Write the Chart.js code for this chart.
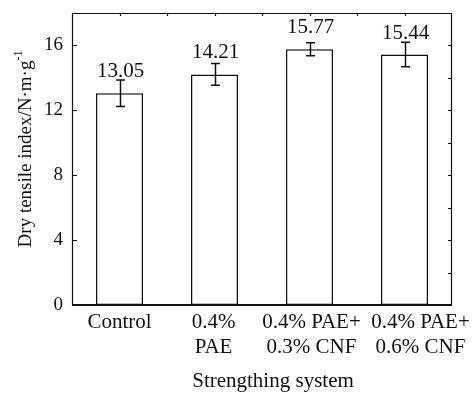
<!DOCTYPE html>
<html><head><meta charset="utf-8">
<script src="https://cdn.jsdelivr.net/npm/chart.js@4/dist/chart.umd.min.js"></script>
<style>html,body{margin:0;padding:0;background:#fff;} canvas{display:block;}</style>
</head><body>
<canvas id="c" width="474" height="393"></canvas>
<script>
const categories = [["Control"], ["0.4%", "PAE"], ["0.4% PAE+", "0.3% CNF"], ["0.4% PAE+", "0.6% CNF"]];
const values = [13.05, 14.21, 15.77, 15.44];
const errors = [0.82, 0.67, 0.40, 0.75];
const valueLabels = ["13.05", "14.21", "15.77", "15.44"];
const yTickValues = [0, 4, 8, 12, 16];
const yMinorTickValues = [2, 4, 6, 8, 10, 12, 14, 16];
const yMin = 0, yMax = 18;
const xTitle = "Strengthing system";
const yTitleMain = "Dry tensile index/N\u00B7m\u00B7g";
const yTitleSup = "-1";

const FONT = "'Liberation Serif', 'Times New Roman', serif";
const INK = "#111";

const decor = {
  id: 'decor',
  afterDatasetsDraw(chart) {
    const {ctx, chartArea: {left, right, top, bottom}, scales: {x, y}} = chart;
    ctx.save();
    ctx.strokeStyle = INK;
    ctx.fillStyle = INK;
    ctx.lineWidth = 1.5;
    values.forEach((v, i) => {
      const px = Math.round(x.getPixelForValue(i)) + 0.5;
      const t = y.getPixelForValue(v + errors[i]);
      const b = y.getPixelForValue(v - errors[i]);
      ctx.beginPath();
      ctx.moveTo(px, t); ctx.lineTo(px, b);
      ctx.moveTo(px - 4.5, t); ctx.lineTo(px + 4.5, t);
      ctx.moveTo(px - 4.5, b); ctx.lineTo(px + 4.5, b);
      ctx.stroke();
      ctx.font = "21px " + FONT;
      ctx.textAlign = 'center';
      ctx.textBaseline = 'alphabetic';
      ctx.fillText(valueLabels[i], px, y.getPixelForValue(v) - 16);
    });
    // category labels (last one sits a little to the right in the original)
    ctx.font = "21px " + FONT;
    ctx.textAlign = 'center';
    ctx.textBaseline = 'alphabetic';
    categories.forEach((lines, i) => {
      let cx = x.getPixelForValue(i);
      if (i === categories.length - 1) cx += 16;
      else if (i === 2) cx += 2;
      else if (i === 1) cx -= 1;
      lines.forEach((s, k) => ctx.fillText(s, cx, bottom + 23 + k * 25));
    });
    ctx.lineWidth = 1.2;
    ctx.beginPath();
    ctx.moveTo(left + 0.5, bottom); ctx.lineTo(left + 0.5, top + 0.5);
    ctx.lineTo(right - 0.5, top + 0.5); ctx.lineTo(right - 0.5, bottom);
    ctx.stroke();
    ctx.lineWidth = 2.2;
    ctx.beginPath();
    ctx.moveTo(left, bottom); ctx.lineTo(right, bottom);
    ctx.stroke();
    ctx.lineWidth = 1.2;
    ctx.beginPath();
    yTickValues.forEach(v => {
      const py = Math.round(y.getPixelForValue(v)) + 0.5;
      if (v > yMin) { ctx.moveTo(left, py); ctx.lineTo(left + 5, py); }
    });
    yMinorTickValues.forEach(v => {
      const py = Math.round(y.getPixelForValue(v)) + 0.5;
      ctx.moveTo(right, py); ctx.lineTo(right - 4, py);
    });
    const half = (x.getPixelForValue(1) - x.getPixelForValue(0)) / 2;
    for (let i = 0; i < categories.length; i++) {
      const c = x.getPixelForValue(i);
      [c, c + half].forEach(px => {
        if (px < right - 2) {
          const rx = Math.round(px) + 0.5;
          ctx.moveTo(rx, top); ctx.lineTo(rx, top + 3);
        }
      });
    }
    ctx.stroke();
    ctx.restore();
  },
  afterDraw(chart) {
    const {ctx} = chart;
    ctx.save();
    ctx.fillStyle = INK;
    ctx.font = "21px " + FONT;
    ctx.textAlign = 'center';
    ctx.textBaseline = 'middle';
    ctx.fillText(xTitle, 273, 381);
    ctx.translate(26, 149);
    ctx.rotate(-Math.PI / 2);
    ctx.font = "19px " + FONT;
    const wMain = ctx.measureText(yTitleMain).width;
    ctx.font = "12px " + FONT;
    const wSup = ctx.measureText(yTitleSup).width;
    const total = wMain + wSup;
    ctx.textAlign = 'left';
    ctx.textBaseline = 'middle';
    ctx.font = "19px " + FONT;
    ctx.fillText(yTitleMain, -total / 2, 0);
    ctx.font = "12px " + FONT;
    ctx.fillText(yTitleSup, -total / 2 + wMain, -7);
    ctx.restore();
  }
};

new Chart(document.getElementById('c'), {
  type: 'bar',
  data: {
    labels: categories,
    datasets: [{
      data: values,
      backgroundColor: '#ffffff',
      borderColor: INK,
      borderWidth: 1.5,
      borderSkipped: false,
      categoryPercentage: 1.0,
      barPercentage: 0.495
    }]
  },
  options: {
    responsive: false,
    animation: false,
    layout: {padding: {top: 13, right: 22, left: 0, bottom: 0}},
    plugins: {legend: {display: false}, tooltip: {enabled: false}, title: {display: false}},
    scales: {
      x: {
        grid: {display: false, drawTicks: false},
        border: {display: false},
        ticks: {display: false},
        afterFit(s) { s.height = 88; s.paddingLeft = 0; s.paddingRight = 0; }
      },
      y: {
        min: yMin, max: yMax,
        grid: {display: false, drawTicks: false},
        border: {display: false},
        ticks: {
          color: INK, font: {family: FONT, size: 19}, padding: 9,
          stepSize: 4, includeBounds: false
        },
        afterBuildTicks(s) { s.ticks = yTickValues.map(v => ({value: v})); },
        afterFit(s) { s.width = 72; s.paddingTop = 0; s.paddingBottom = 0; }
      }
    }
  },
  plugins: [decor]
});
</script>
</body></html>
